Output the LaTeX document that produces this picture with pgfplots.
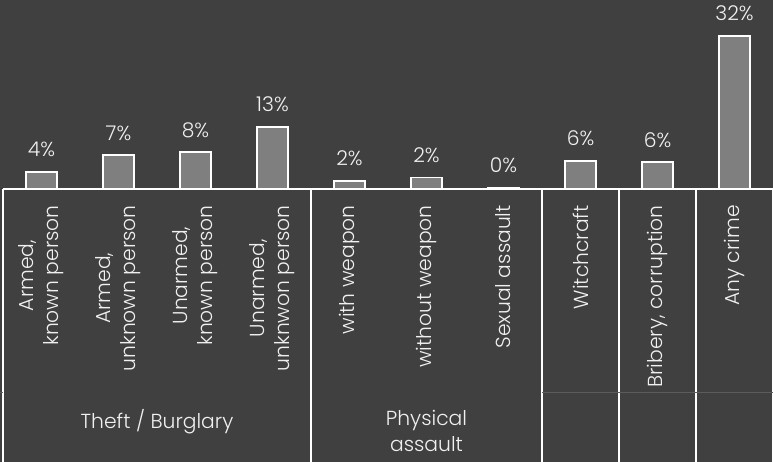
\documentclass[border=0pt]{standalone}
\usepackage{pgfplots}
\pgfplotsset{compat=1.18}
\usepackage{pgfplotstable}
\usepackage{fontspec}
\setmainfont{Poppins}[UprightFont=* Light]
\definecolor{bgc}{HTML}{404040}
\definecolor{barc}{HTML}{7F7F7F}
\definecolor{txt}{HTML}{F0F0F0}
\definecolor{faint}{HTML}{5C5C5C}
\pgfplotstableread{
x y lab
0 3.6 4
1 7.1 7
2 7.7 8
3 13.0 13
4 1.7 2
5 2.4 2
6 0.3 0
7 5.9 6
8 5.6 6
9 32.0 32
}\datatable
\begin{document}
\begin{tikzpicture}[font=\fontsize{20.3bp}{24bp}\selectfont]
\useasboundingbox (-3bp,-273bp) rectangle (770bp,189bp);
\fill[bgc] (-3bp,-273bp) rectangle (770bp,189bp);
\begin{axis}[
  at={(0,0)}, anchor=south west,
  scale only axis, width=770bp, height=189bp,
  xmin=-0.5, xmax=9.5, ymin=0, ymax=39.5,
  axis x line*=bottom, axis y line=none,
  x axis line style={white, line width=1.5bp},
  xtick={0,...,9},
  xticklabels={{Armed,\\known person},{Armed,\\unknown person},{Unarmed,\\known person},{Unarmed,\\unknwon person},{with weapon},{without weapon},{Sexual assault},{Witchcraft},{Bribery, corruption},{Any crime}},
  major tick length=0pt,
  ytick=\empty,
  xticklabel style={rotate=90, anchor=east, align=center, inner sep=0pt, text=txt, font=\fontsize{20.3bp}{25bp}\selectfont},
  xticklabel shift=16bp,
  /pgf/number format/assume math mode=true,
  clip=false,
]
\addplot[ybar, bar width=31bp, fill=barc, draw=white, line width=1.5bp,
  point meta=explicit,
  nodes near coords={\pgfmathprintnumber[fixed,precision=0,assume math mode=true]{\pgfplotspointmeta}\%},
  every node near coord/.append style={anchor=base, yshift=15bp, inner sep=0pt, text=txt, font=\fontsize{20.3bp}{24bp}\selectfont}]
  table[x=x, y=y, meta=lab]{\datatable};
\draw[white, line width=1.5bp] (axis cs:-0.5,0) -- ++(0pt,-273bp);
\draw[white, line width=1.5bp] (axis cs:3.5,0) -- ++(0pt,-273bp);
\draw[white, line width=1.5bp] (axis cs:6.5,0) -- ++(0pt,-273bp);
\draw[white, line width=1.5bp] (axis cs:7.5,0) -- ++(0pt,-273bp);
\draw[white, line width=1.5bp] (axis cs:8.5,0) -- ++(0pt,-273bp);
\draw[white, line width=1.5bp] (axis cs:9.5,0) -- ++(0pt,-273bp);
\draw[faint, line width=1bp] ([yshift=-203bp]axis cs:6.5,0) -- ([yshift=-203bp]axis cs:9.5,0);
\draw[faint, line width=1bp] ([yshift=-203bp,xshift=-3bp]axis cs:-0.5,0) -- ([yshift=-203bp]axis cs:-0.5,0);
\node[anchor=north, inner sep=0pt, text=txt] at ([yshift=-220bp]axis cs:1.5,0) {Theft / Burglary};
\node[anchor=north, inner sep=0pt, text=txt, align=center, font=\fontsize{20.3bp}{26bp}\selectfont] at ([yshift=-221.5bp]axis cs:5,0) {Physical\\assault};
\end{axis}
\end{tikzpicture}
\end{document}
